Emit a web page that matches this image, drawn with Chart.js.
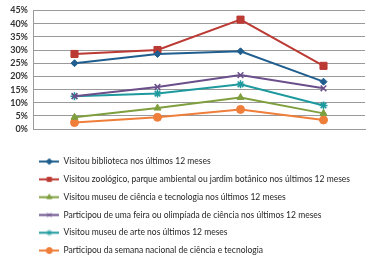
<!DOCTYPE html>
<html lang="pt">
<head>
<meta charset="UTF-8">
<title>Participação em atividades de ciência e cultura</title>
<script src="https://cdn.jsdelivr.net/npm/chart.js"></script>
<style>
  html, body { margin: 0; padding: 0; background: #fff; }
  #wrap { width: 380px; height: 260px; }
</style>
</head>
<body>
<div id="wrap"><canvas id="chart" width="380" height="260"></canvas></div>
<script>
// data (percent)
const years = ['2006', '2010', '2015', '2019'];
const biblioteca = [25, 28.5, 29.5, 18];
const zoologico = [28.5, 30, 41.5, 24];
const museuCiencia = [4.5, 8, 12, 6];
const feiraCiencia = [12.5, 16, 20.5, 15.5];
const museuArte = [12.5, 13.5, 17, 9];
const semanaCiencia = [2.5, 4.5, 7.5, 3.5];
const yTicks = [0, 5, 10, 15, 20, 25, 30, 35, 40, 45];

const labels = [
    'Visitou biblioteca nos últimos 12 meses',
    'Visitou zoológico, parque ambiental ou jardim botânico nos últimos 12 meses',
    'Visitou museu de ciência e tecnologia nos últimos 12 meses',
    'Participou de uma feira ou olimpíada de ciência nos últimos 12 meses',
    'Visitou museu de arte nos últimos 12 meses',
    'Participou da semana nacional de ciência e tecnologia'
];
const series = [biblioteca, zoologico, museuCiencia, feiraCiencia, museuArte, semanaCiencia];
const colors = ['#1f5e8e', '#bc3a34', '#7f9f3f', '#6a4f8a', '#1e9a9e', '#ee7e3a'];
const markers = ['rectRot', 'rect', 'triangle', 'crossRot', 'star', 'circle'];
const radii = [3.5, 5, 4, 4, 4, 4];

// legend sample: short line with the marker in the middle
function legendSample(color, style) {
    const c = document.createElement('canvas');
    c.width = 20;
    c.height = 9;
    const g = c.getContext('2d');
    g.strokeStyle = color;
    g.fillStyle = color;
    g.lineWidth = 2;
    g.beginPath();
    g.moveTo(0, 4.5);
    g.lineTo(20, 4.5);
    g.stroke();
    if (Chart.helpers && Chart.helpers.drawPoint) {
        g.lineWidth = 1;
        Chart.helpers.drawPoint(g, { pointStyle: style, radius: 3, rotation: 0, borderWidth: 1 }, 10, 4.5);
    }
    return c;
}

const datasets = series.map((d, i) => ({
    label: labels[i],
    data: d,
    borderColor: colors[i],
    backgroundColor: colors[i],
    borderWidth: 2,
    pointStyle: markers[i],
    pointRadius: radii[i],
    pointBorderWidth: markers[i] === 'crossRot' || markers[i] === 'star' ? 1.5 : 1,
    pointBackgroundColor: colors[i],
    pointBorderColor: colors[i],
    tension: 0
}));

// put the legend block where the original has it
const legendShift = {
    id: 'legendShift',
    afterLayout(chart) {
        chart.legend.left = 30;
        chart.legend.top = 148;
    }
};

new Chart(document.getElementById('chart'), {
    type: 'line',
    data: { labels: years, datasets: datasets },
    plugins: [legendShift],
    options: {
        responsive: false,
        animation: false,
        layout: { padding: { top: 6, right: 15, left: 0, bottom: 0 } },
        plugins: {
            tooltip: { enabled: false },
            legend: {
                position: 'bottom',
                align: 'start',
                labels: {
                    font: { family: 'Lato', size: 8.5 },
                    color: '#262626',
                    padding: 9.3,
                    usePointStyle: true,
                    pointStyleWidth: 20,
                    generateLabels(chart) {
                        const items = Chart.defaults.plugins.legend.labels.generateLabels(chart);
                        items.forEach((it, i) => {
                            it.pointStyle = legendSample(colors[i], markers[i]);
                        });
                        return items;
                    }
                }
            }
        },
        scales: {
            x: {
                offset: true,
                grid: { display: false },
                border: { display: true, color: '#9a9a9a' },
                ticks: { font: { family: 'Lato', size: 9, weight: 'bold' }, color: '#262626', padding: 7 },
                afterFit(scale) { scale.height = 14; }
            },
            y: {
                min: 0,
                max: 45,
                afterBuildTicks(scale) { scale.ticks = yTicks.map(v => ({ value: v })); },
                grid: { color: '#9a9a9a', lineWidth: 1, drawTicks: false },
                border: { display: true, color: '#9a9a9a' },
                ticks: {
                    autoSkip: false,
                    font: { family: 'Lato', size: 9, weight: 'bold' },
                    color: '#333333',
                    padding: 5,
                    callback: v => v + '%'
                },
                afterFit(scale) { scale.width = 33; }
            }
        }
    }
});
</script>
</body>
</html>
